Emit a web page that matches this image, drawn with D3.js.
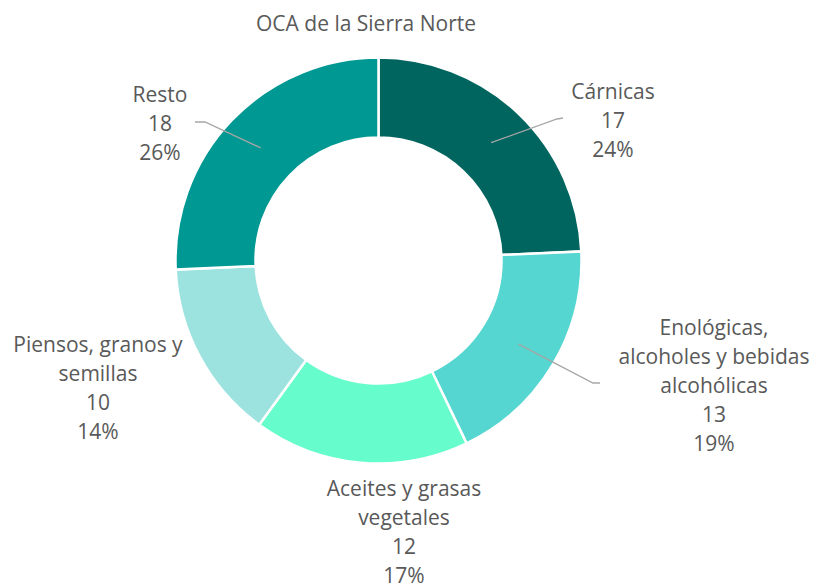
<!DOCTYPE html>
<html>
<head>
<meta charset="utf-8">
<script src="https://cdn.jsdelivr.net/npm/d3@7"></script>
<style>
  body { margin: 0; background: #fff; }
  text { font-family: "Open Sans", sans-serif; fill: #595959; }
</style>
</head>
<body>
<svg class="chart" width="815" height="585"></svg>
<script>
var categories = ["Cárnicas", "Enológicas, alcoholes y bebidas alcohólicas", "Aceites y grasas vegetales", "Piensos, granos y semillas", "Resto"];
var values = [17, 13, 12, 10, 18];
var colors = ["#00645f", "#56d6d0", "#66fccb", "#9ce3e0", "#009893"];
var labelLines = [
    ["Cárnicas"],
    ["Enológicas,", "alcoholes y bebidas", "alcohólicas"],
    ["Aceites y grasas", "vegetales"],
    ["Piensos, granos y", "semillas"],
    ["Resto"]
];

// where each label block sits, and the elbow of its leader line (null = no line)
var labelLayout = [
    {x: 613, y: 91, elbow: [557, 119], end: [563, 118]},
    {x: 714, y: 327, elbow: [593, 383], end: [600, 383]},
    {x: 404, y: 488, elbow: null},
    {x: 98, y: 344, elbow: null},
    {x: 160, y: 94, elbow: [205, 122], end: [195, 122]}
];

var cx = 378.5, cy = 260.5,
    outerR = 203, innerR = 123,
    lineH = 29,
    fontSize = "21px";

var data = categories.map(function(c, i) {
    return {name: c, value: values[i], color: colors[i], lines: labelLines[i], pos: labelLayout[i]};
});
var total = d3.sum(values);

var svg = d3.select(".chart");

svg.append("text")
    .attr("x", 366)
    .attr("y", 23)
    .attr("text-anchor", "middle")
    .attr("dominant-baseline", "central")
    .style("font-size", fontSize)
    .text("OCA de la Sierra Norte");

var pie = d3.pie().sort(null).value(function(d) { return d.value; });
var arc = d3.arc().innerRadius(innerR).outerRadius(outerR);
var midArc = d3.arc().innerRadius((innerR + outerR) / 2).outerRadius((innerR + outerR) / 2);

var g = svg.append("g").attr("transform", "translate(" + cx + "," + cy + ")");
var arcs = pie(data);

g.selectAll("path.slice")
    .data(arcs)
    .enter()
    .append("path")
    .attr("class", "slice")
    .attr("d", arc)
    .attr("fill", function(d) { return d.data.color; })
    .attr("stroke", "#fff")
    .attr("stroke-width", 2.5);

// leader lines
svg.selectAll("path.leader")
    .data(arcs.filter(function(d) { return d.data.pos.elbow; }))
    .enter()
    .append("path")
    .attr("class", "leader")
    .attr("fill", "none")
    .attr("stroke", "#a6a6a6")
    .attr("stroke-width", 1.3)
    .attr("d", function(d) {
        var c = midArc.centroid(d);
        var p = d.data.pos;
        return "M" + (cx + c[0]) + "," + (cy + c[1]) + "L" + p.elbow[0] + "," + p.elbow[1] + "L" + p.end[0] + "," + p.end[1];
    });

var fmt = d3.format(".0%");
var labels = svg.selectAll("g.label")
    .data(arcs)
    .enter()
    .append("g")
    .attr("class", "label");

labels.each(function(d) {
    var lines = d.data.lines.concat([String(d.data.value), fmt(d.data.value / total)]);
    d3.select(this).selectAll("text")
        .data(lines)
        .enter()
        .append("text")
        .attr("x", d.data.pos.x)
        .attr("y", function(t, i) { return d.data.pos.y + i * lineH; })
        .attr("text-anchor", "middle")
        .attr("dominant-baseline", "central")
        .style("font-size", fontSize)
        .text(function(t) { return t; });
});
</script>
</body>
</html>
